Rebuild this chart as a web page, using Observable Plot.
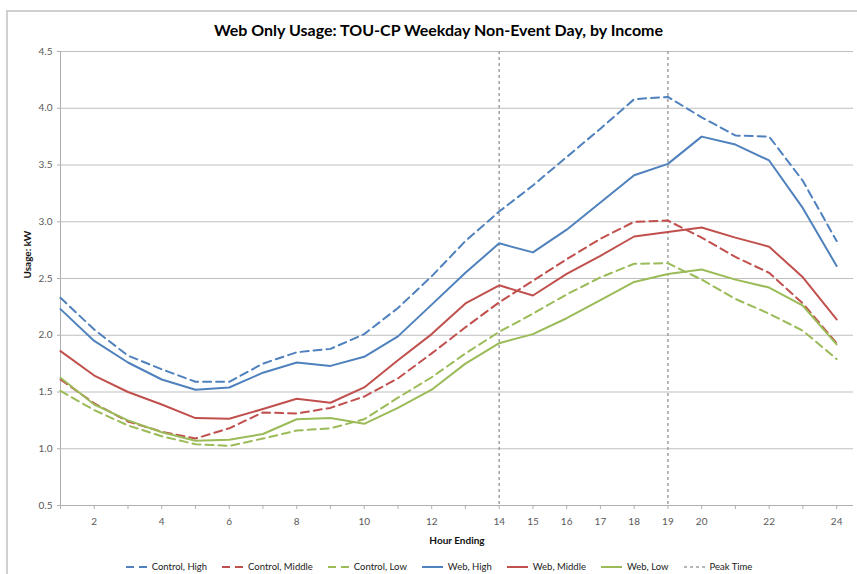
<!DOCTYPE html>
<html>
<head>
<meta charset="utf-8">
<script src="https://cdn.jsdelivr.net/npm/d3@7"></script>
<script src="https://cdn.jsdelivr.net/npm/@observablehq/plot@0.6"></script>
<style>
  html, body { margin: 0; padding: 0; background: #fff; }
  #wrap { position: relative; width: 857px; height: 574px; overflow: hidden; font-family: Lato, "Open Sans", sans-serif; }
  #border { position: absolute; left: 6px; top: 10px; width: 900px; height: 600px; border-left: 2px solid #d0d0d0; border-top: 2px solid #d0d0d0; }
  #title { position: absolute; left: 0; width: 877px; top: 19px; text-align: center; font-size: 16px; font-weight: 700; color: #000; line-height: 22px; }
  #chart { position: absolute; left: 0; top: 0; }
  #legend { position: absolute; left: 20px; width: 837px; top: 561px; display: flex; justify-content: center; align-items: center; font-size: 9.5px; color: #222; }
  .item { display: flex; align-items: center; margin: 0 7px; }
  .item svg { margin-right: 5px; }
</style>
</head>
<body>
<div id="wrap">
  <div id="border"></div>
  <div id="chart"></div>
  <div id="title">Web Only Usage: TOU-CP Weekday Non-Event Day, by Income</div>
  <div id="legend"></div>
</div>
<script>
const hours = d3.range(1, 25);
const xTickLabels = [2, 4, 6, 8, 10, 12, 14, 15, 16, 17, 18, 19, 20, 22, 24];
const yTicks = [0.5, 1.0, 1.5, 2.0, 2.5, 3.0, 3.5, 4.0, 4.5];
const peakHours = [14, 19];

const controlHigh   = [2.33, 2.05, 1.82, 1.70, 1.59, 1.59, 1.75, 1.85, 1.88, 2.01, 2.24, 2.52, 2.83, 3.09, 3.32, 3.57, 3.82, 4.08, 4.10, 3.92, 3.76, 3.75, 3.36, 2.83];
const controlMiddle = [1.61, 1.40, 1.24, 1.15, 1.09, 1.18, 1.32, 1.31, 1.36, 1.46, 1.62, 1.84, 2.07, 2.29, 2.48, 2.67, 2.85, 3.00, 3.01, 2.86, 2.69, 2.55, 2.28, 1.93];
const controlLow    = [1.51, 1.34, 1.205, 1.11, 1.04, 1.025, 1.09, 1.16, 1.18, 1.26, 1.45, 1.63, 1.84, 2.03, 2.19, 2.36, 2.51, 2.63, 2.635, 2.49, 2.32, 2.19, 2.04, 1.79];
const webHigh       = [2.23, 1.95, 1.76, 1.61, 1.52, 1.54, 1.67, 1.76, 1.73, 1.81, 1.99, 2.27, 2.55, 2.81, 2.73, 2.93, 3.17, 3.41, 3.51, 3.75, 3.68, 3.54, 3.12, 2.61];
const webMiddle     = [1.86, 1.645, 1.50, 1.39, 1.27, 1.265, 1.35, 1.44, 1.405, 1.54, 1.78, 2.01, 2.28, 2.44, 2.35, 2.54, 2.70, 2.87, 2.91, 2.95, 2.86, 2.78, 2.51, 2.14];
const webLow        = [1.625, 1.39, 1.25, 1.145, 1.07, 1.08, 1.13, 1.26, 1.27, 1.22, 1.36, 1.52, 1.75, 1.93, 2.01, 2.15, 2.31, 2.47, 2.54, 2.58, 2.49, 2.42, 2.26, 1.92];

const seriesNames = ["Control, High", "Control, Middle", "Control, Low", "Web, High", "Web, Middle", "Web, Low"];
const seriesValues = [controlHigh, controlMiddle, controlLow, webHigh, webMiddle, webLow];
const seriesColors = ["#4f81bd", "#c0504d", "#9bbb59", "#4f81bd", "#c0504d", "#9bbb59"];
const seriesDashed = [true, true, true, false, false, false];

const font = "Lato, 'Open Sans', sans-serif";

const lineMarks = seriesNames.map((name, i) => {
  const data = hours.map((h, j) => ({hour: h, value: seriesValues[i][j]}));
  return Plot.line(data, {
    x: "hour", y: "value",
    stroke: seriesColors[i], strokeWidth: 2,
    strokeDasharray: seriesDashed[i] ? "8,5" : null
  });
});

const chart = Plot.plot({
  width: 857,
  height: 550,
  marginLeft: 60,
  marginRight: 4,
  marginTop: 51,
  marginBottom: 45,
  style: {fontFamily: font, fontSize: "10px", color: "#595959", background: "transparent"},
  x: {domain: [1, 24.5]},
  y: {domain: [0.5, 4.5]},
  marks: [
    Plot.gridY(yTicks, {stroke: "#bfbfbf", strokeOpacity: 1, strokeWidth: 1}),
    Plot.ruleX(peakHours, {stroke: "#a0a0a0", strokeWidth: 1.5, strokeDasharray: "3,3"}),
    Plot.ruleX([1], {stroke: "#b0b0b0", strokeWidth: 1}),
    Plot.ruleY([0.5], {stroke: "#b0b0b0", strokeWidth: 1}),
    Plot.axisY(yTicks, {tickSize: 3, tickPadding: 5, tickFormat: d3.format(".1f"), stroke: "#b0b0b0", fill: "#595959", label: null}),
    Plot.axisX(hours, {tickSize: 4, tickFormat: () => "", stroke: "#b0b0b0", label: null}),
    Plot.axisX(xTickLabels, {tickSize: 0, tickPadding: 12, fill: "#595959", label: null}),
    Plot.text(["Usage: kW"], {frameAnchor: "left", dx: -33, rotate: -90, fontWeight: "bold", fill: "#111", fontSize: 10}),
    Plot.text(["Hour Ending"], {frameAnchor: "bottom", dy: 38, fontWeight: "bold", fill: "#111", fontSize: 10}),
    ...lineMarks
  ]
});
document.getElementById("chart").appendChild(chart);

// Legend
const legend = document.getElementById("legend");
const legendItems = seriesNames.map((n, i) => ({name: n, color: seriesColors[i], dash: seriesDashed[i] ? "8,5" : null, width: 2}))
  .concat([{name: "Peak Time", color: "#a0a0a0", dash: "3,3", width: 1.5}]);
legendItems.forEach(it => {
  const div = document.createElement("div");
  div.className = "item";
  const ns = "http://www.w3.org/2000/svg";
  const s = document.createElementNS(ns, "svg");
  s.setAttribute("width", 22); s.setAttribute("height", 10);
  const l = document.createElementNS(ns, "line");
  l.setAttribute("x1", 1); l.setAttribute("x2", 22); l.setAttribute("y1", 5); l.setAttribute("y2", 5);
  l.setAttribute("stroke", it.color); l.setAttribute("stroke-width", it.width);
  if (it.dash) l.setAttribute("stroke-dasharray", it.dash);
  s.appendChild(l);
  div.appendChild(s);
  const t = document.createElement("span");
  t.textContent = it.name;
  div.appendChild(t);
  legend.appendChild(div);
});
</script>
</body>
</html>
